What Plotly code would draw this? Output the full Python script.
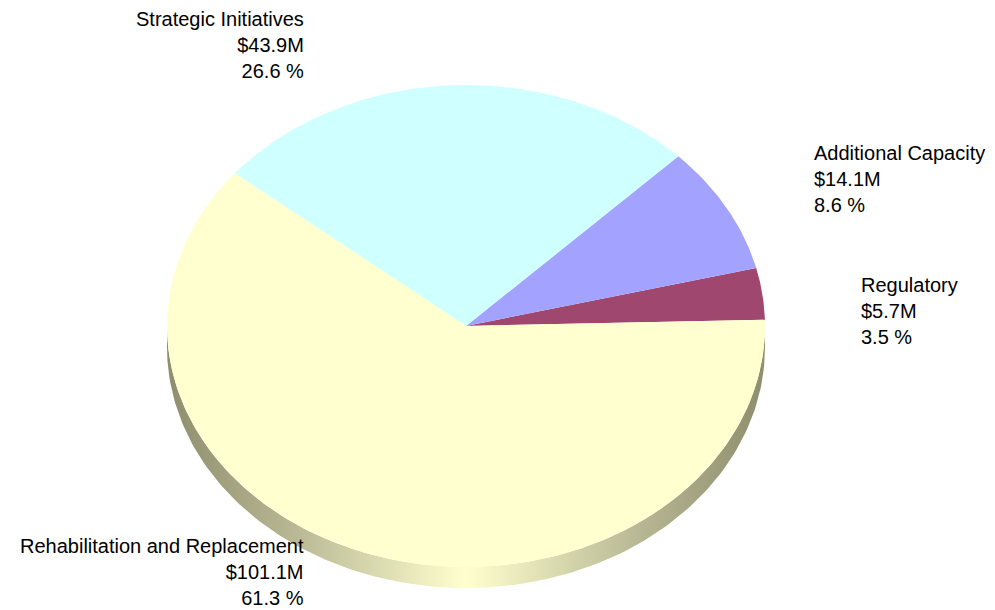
import numpy as np
import plotly.graph_objects as go

# ---- data ----
categories = ["Regulatory", "Additional Capacity", "Strategic Initiatives", "Rehabilitation and Replacement"]
values = [5.7, 14.1, 43.9, 101.1]          # $M
value_labels = ["$5.7M", "$14.1M", "$43.9M", "$101.1M"]
colors = ["#A0476F", "#A3A3FF", "#D0FFFF", "#FFFFD0"]

# ---- geometry / style ----
W, H = 995, 610
cx, cy = 466, 326
rx, ry = 299, 241
depth = 21
start_deg = 1.5
side_scale = [[0, "#8E8E6E"], [0.2, "#B5B592"], [0.5, "#FFFFCE"], [0.8, "#B5B592"], [1, "#8E8E6E"]]
label_pos = {
    "Regulatory": (859, 272, "left"),
    "Additional Capacity": (812, 140, "left"),
    "Strategic Initiatives": (306, 6, "right"),
    "Rehabilitation and Replacement": (306, 533, "right"),
}

def ell(theta_deg, dy=0):
    t = np.radians(theta_deg)
    return cx + rx * np.cos(t), cy - ry * np.sin(t) + dy

fig = go.Figure()

# side (front rim)
th = np.linspace(180, 360, 200)
xt, yt = ell(th)
xb, yb = ell(th[::-1], depth)
fig.add_trace(go.Scatter(
    x=np.concatenate([xt, xb]), y=np.concatenate([yt, yb]),
    fill="toself", mode="lines", line=dict(width=0),
    fillgradient=dict(type="horizontal", colorscale=side_scale),
    hoverinfo="skip", showlegend=False))

total = sum(values)
ang = start_deg
for cat, v, c in zip(categories, values, colors):
    span = v / total * 360
    th = np.linspace(ang, ang + span, max(int(span * 2), 4))
    xs, ys = ell(th)
    fig.add_trace(go.Scatter(
        x=np.concatenate([[cx], xs, [cx]]), y=np.concatenate([[cy], ys, [cy]]),
        fill="toself", fillcolor=c, mode="lines", line=dict(width=0, color=c),
        hoverinfo="skip", showlegend=False))
    ang += span

for cat, v, vl in zip(categories, values, value_labels):
    x, y, anchor = label_pos[cat]
    pct = v / total * 100
    fig.add_annotation(
        x=x, y=y, xref="x", yref="y", xanchor=anchor, yanchor="top",
        text=f"{cat}<br>{vl}<br>{pct:.1f} %", showarrow=False, align=anchor,
        font=dict(family="Liberation Sans, Arial", size=20, color="#000000"))

fig.update_layout(
    width=W, height=H, margin=dict(l=0, r=0, t=0, b=0),
    paper_bgcolor="white", plot_bgcolor="white",
    xaxis=dict(range=[0, W], visible=False, fixedrange=True),
    yaxis=dict(range=[H, 0], visible=False, fixedrange=True),
)
fig.write_html("out.html", config={"displayModeBar": False},
               post_script="document.body.style.margin='0';document.body.style.overflow='hidden';")
